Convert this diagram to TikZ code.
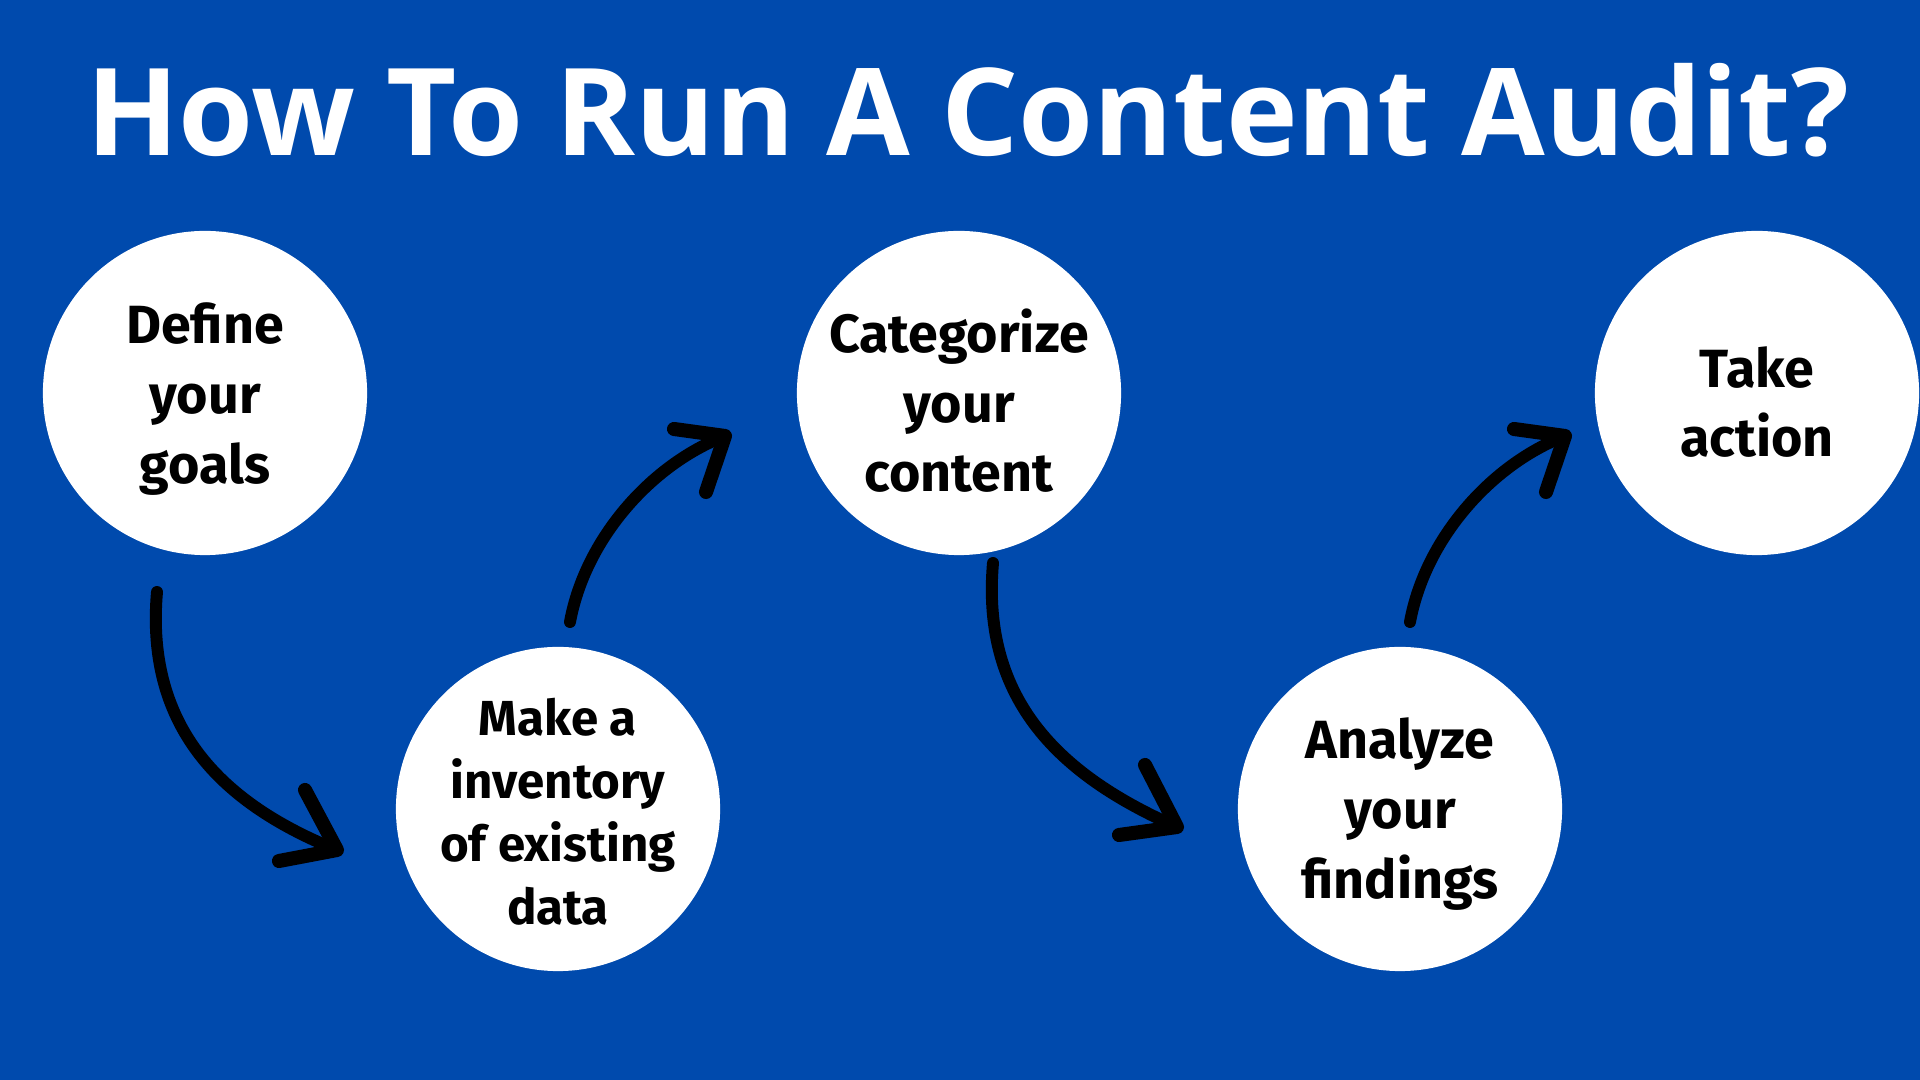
\documentclass[tikz,border=0pt]{standalone}
\usepackage{fontspec}
\setmainfont{Fira Sans}
\newfontfamily\titlefont{Open Sans}
\usetikzlibrary{positioning}
\definecolor{auditblue}{HTML}{004AAD}

\begin{document}
\begin{tikzpicture}[
    x=0.01cm, y=-0.01cm,
    stepcircle/.style={circle, fill=white, minimum size=3.24cm, inner sep=0pt},
    steptext/.style={align=center, text=black, font=\bfseries\fontsize{15.3}{19.8}\selectfont},
    smalltext/.style={font=\bfseries\fontsize{14}{17.9}\selectfont},
    curvearr/.style={line width=3.4pt, line cap=round},
    headarr/.style={line width=4pt, line cap=round, line join=round}
]
\fill[auditblue] (0,0) rectangle (1920,1080);
\useasboundingbox (0,0) rectangle (1920,1080);

\node[anchor=base, text=white, font=\titlefont\bfseries\fontsize{34.5}{40}\selectfont]
    (title) at (968,156) {How To Run A Content Audit?};

\node[stepcircle] (goals)      at (205,393)  {};
\node[stepcircle] (inventory)  at (558,809)  {};
\node[stepcircle] (categorize) at (959,393)  {};
\node[stepcircle] (analyze)    at (1400,809) {};
\node[stepcircle] (action)     at (1757,393) {};

% text sits a little below the circle centres
\node[steptext] (goalstext)      at ([yshift=-0.06cm]goals.center)      {Define\\your\\goals};
\node[steptext, smalltext] (inventorytext) at ([yshift=-0.03cm]inventory.center) {Make a\\inventory\\of existing\\data};
\node[steptext] (categorizetext) at ([yshift=-0.08cm]categorize.center) {Categorize\\your\\content};
\node[steptext] (analyzetext)    at ([yshift=-0.05cm]analyze.center)    {Analyze\\your\\findings};
\node[steptext] (actiontext)     at ([yshift=-0.09cm]action.center)     {Take\\action};

% arrow ends between the circles
\coordinate (s1) at (157,592);   \coordinate (t1) at (337,850);
\coordinate (s2) at (570,622);   \coordinate (t2) at (725,436);
\coordinate (s3) at (993,563);   \coordinate (t3) at (1177,827);
\coordinate (s4) at (1410,622);  \coordinate (t4) at (1565,436);

\draw[curvearr] (s1) .. controls (145,730) and (225,805) .. (t1);
\draw[headarr] (305,790) -- (t1) -- (279,861);
\draw[curvearr] (s2) .. controls (585,540) and (650,465) .. (t2);
\draw[headarr] (674,429) -- (t2) -- (706,492);
\draw[curvearr] (s3) .. controls (981,701) and (1061,776) .. (t3);
\draw[headarr] (1145,765) -- (t3) -- (1119,835);
\draw[curvearr] (s4) .. controls (1425,540) and (1490,465) .. (t4);
\draw[headarr] (1514,429) -- (t4) -- (1546,492);
\end{tikzpicture}
\end{document}
